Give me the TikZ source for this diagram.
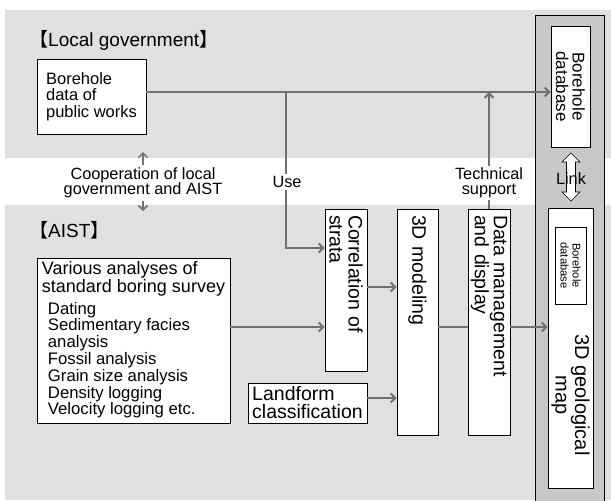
\documentclass[tikz,border=0pt]{standalone}
\usepackage{fontspec}
\setmainfont{Liberation Sans}
\newfontfamily\cjkfont{Noto Sans CJK JP}
\usetikzlibrary{arrows.meta, calc}

\definecolor{BandGray}{RGB}{223,224,226}
\definecolor{ColumnGray}{RGB}{200,200,200}
\definecolor{FlowGray}{RGB}{112,112,112}

\tikzset{
    band/.style={fill=BandGray},
    box/.style={draw=black, fill=white, line width=0.8pt},
    vbox/.style={box, rotate=-90, inner xsep=6pt, inner ysep=1pt},
    title/.style={anchor=west, inner sep=0pt, font=\fontsize{19}{20}\selectfont},
    note/.style={fill=white, inner sep=2pt, align=center, font=\fontsize{16.3}{15.5}\selectfont},
    flow/.style={draw=FlowGray, line width=2pt, -{Straight Barb[length=4.5pt, width=9pt]}},
    plain flow/.style={draw=FlowGray, line width=2pt}
}

\begin{document}
\begin{tikzpicture}[x=1pt, y=1pt]

\useasboundingbox (0,0) rectangle (611,-501);

% Dibujar franjas de fondo.
\fill[band] (5,-10) rectangle (611,-158);
\fill[band] (5,-205) rectangle (611,-500);
\draw[fill=ColumnGray, line width=0.8pt] (535,-15) rectangle (604,-506);

% Titulos de las franjas.
\node[title] (LocalGovTitle) at (29,-40) {{\cjkfont 【}Local government{\cjkfont 】}};
\node[title] (AistTitle) at (29,-230) {{\cjkfont 【}AIST{\cjkfont 】}};

% Cajas del gobierno local y base de datos.
\node[box, minimum width=109, minimum height=75, align=left,
      font=\fontsize{16.5}{16.3}\selectfont] (BoreholeData) at (91.5,-96.5)
    {Borehole\\data of\\public works};
\node[vbox, minimum width=121, minimum height=39, text width=109, align=center,
      font=\fontsize{17}{16.5}\selectfont] (BoreholeDb) at (570.5,-86.5)
    {Borehole\\database};

% Cajas de AIST.
\node[box, minimum width=193, minimum height=163, align=left, inner xsep=4pt,
      font=\fontsize{18}{18.3}\selectfont] (VariousAnalyses) at (133.5,-340.5)
    {Various analyses of\\standard boring survey\\[3pt]
     {\fontsize{16.7}{15.7}\selectfont
     \begin{tabular}[t]{@{\hspace{6pt}}l@{}}
     Dating\\ Sedimentary facies\\ analysis\\ Fossil analysis\\
     Grain size analysis\\ Density logging\\ Velocity logging etc.
     \end{tabular}}};
\node[box, minimum width=119, minimum height=40, align=left, inner xsep=2pt,
      font=\fontsize{19.5}{18}\selectfont] (Landform) at (307.5,-403)
    {Landform\\classification};
\node[vbox, minimum width=162, minimum height=42, text width=150, align=left,
      font=\fontsize{19.5}{19}\selectfont] (Correlation) at (346,-290)
    {Correlation of\\strata};
\node[vbox, minimum width=226, minimum height=41, text width=214, align=left,
      font=\fontsize{19.5}{19}\selectfont] (Modeling) at (417.5,-322)
    {3D modeling};
\node[vbox, minimum width=226, minimum height=42, text width=214, align=left,
      font=\fontsize{19.5}{19}\selectfont] (DataManagement) at (489,-322)
    {Data management\\and display};

% Mapa geologico 3D.
\node[box, minimum width=45, minimum height=280] (GeoMap) at (570.5,-348) {};
\node[vbox, minimum width=75, minimum height=31, text width=65, align=center,
      font=\fontsize{11.2}{12}\selectfont] (SmallDb) at (570.5,-265.5)
    {Borehole\\database};
\node[rotate=-90, align=center, font=\fontsize{20}{19.5}\selectfont]
    (GeoMapText) at (570.5,-395) {3D geological\\map};

% Puntos auxiliares de los conectores.
\coordinate (Fork) at (286,-92);
\coordinate (UseBend) at (286,-248);
\coordinate (TopRow) at (0,-287);
\coordinate (MidRow) at (0,-327);
\coordinate (LowRow) at (0,-398);
\coordinate (CoopUp) at (143,-152);
\coordinate (CoopDown) at (143,-211);
\coordinate (LinkTop) at (571,-153);
\coordinate (LinkBottom) at (571,-201);

% Conectores.
\draw[flow] (BoreholeData.east |- Fork) -- (BoreholeDb.south |- Fork);
\draw[flow] (Fork) -- (UseBend) -- (UseBend -| Correlation.south);
\draw[flow] (DataManagement.west) -- (DataManagement.west |- Fork);
\draw[flow] (VariousAnalyses.east |- MidRow) -- (Correlation.south |- MidRow);
\draw[flow] (Correlation.north |- TopRow) -- (Modeling.south |- TopRow);
\draw[flow] (Landform.east |- LowRow) -- (Modeling.south |- LowRow);
\draw[plain flow] (Modeling.north |- MidRow) -- (DataManagement.south |- MidRow);
\draw[flow] (DataManagement.north |- MidRow) -- (GeoMap.west |- MidRow);

% Flecha doble del enlace.
\draw[fill=white, line width=0.6pt]
    (LinkTop) -- ++(9,-9) -- ++(-4.5,0) -- ($(LinkBottom)+(4.5,9)$) -- ++(4.5,0)
    -- (LinkBottom) -- ++(-9,9) -- ++(4.5,0) -- ($(LinkTop)+(-4.5,-9)$) -- ++(-4.5,0)
    -- cycle;

% Etiquetas.
\node[note] (Cooperation) at (143,-183) {Cooperation of local\\government and AIST};
\draw[flow, line width=1.5pt] (Cooperation.north) -- (CoopUp);
\draw[flow, line width=1.5pt] (Cooperation.south) -- (CoopDown);
\node[note] (UseLabel) at (287,-182) {Use};
\node[note] (TechLabel) at (489,-183) {Technical\\support};
\node[note, fill=none] (LinkLabel) at (571,-179) {Link};

\end{tikzpicture}
\end{document}
